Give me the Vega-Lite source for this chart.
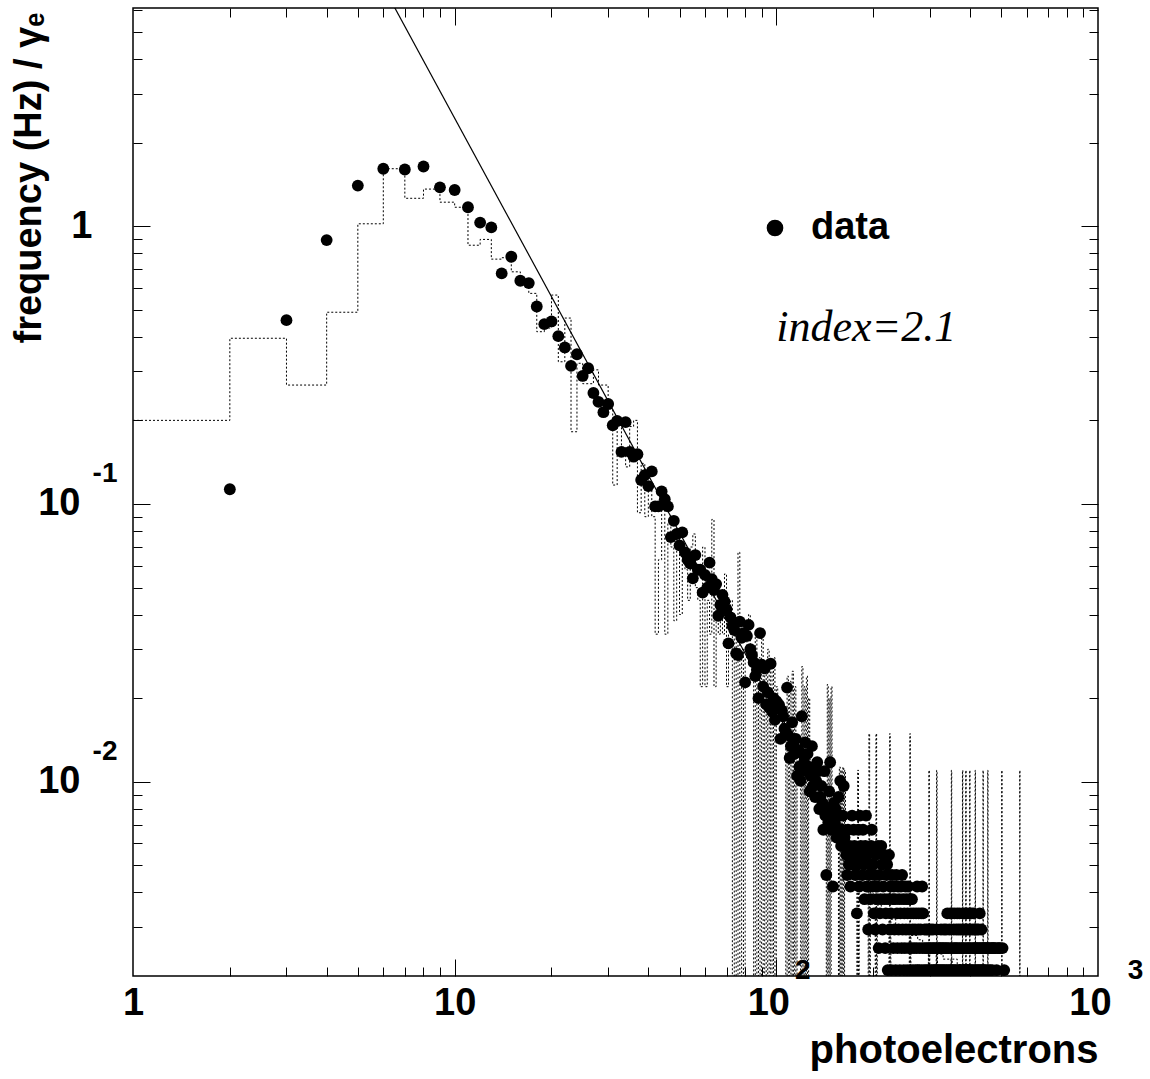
{
"$schema": "https://vega.github.io/schema/vega-lite/v6.json",
"width": 965, "height": 968,
"autosize": {"type": "none"},
"padding": {"left": 133, "top": 8, "right": 52, "bottom": 103},
"background": "white",
"config": {
  "view": {"stroke": "black", "strokeWidth": 1.5},
  "axis": {"grid": false, "domain": false, "tickColor": "black", "tickWidth": 1, "labelColor": "black", "labelFont": "Liberation Sans", "labelFontWeight": "bold", "titleFont": "Liberation Sans", "titleFontWeight": "bold", "titleColor": "black", "labelFlush": false, "labelOverlap": false, "labelBound": false}
},
"resolve": {"axis": {"x": "independent", "y": "independent"}},
"datasets": {
"hist": [
{"pe":1,"freq":0.2},{"pe":2,"freq":0.395},{"pe":3,"freq":0.268},{"pe":4,"freq":0.49},{"pe":5,"freq":1.02},{"pe":6,"freq":1.61},{"pe":7,"freq":1.26},{"pe":8,"freq":1.36},{"pe":9,"freq":1.22},{"pe":10,"freq":1.17},
{"pe":11,"freq":0.854},{"pe":12,"freq":0.896},{"pe":13,"freq":0.761},{"pe":14,"freq":0.77},{"pe":15,"freq":0.685},{"pe":16,"freq":0.62},{"pe":17,"freq":0.573},{"pe":18,"freq":0.417},{"pe":19,"freq":0.43},{"pe":20,"freq":0.565},
{"pe":21,"freq":0.325},{"pe":22,"freq":0.467},{"pe":23,"freq":0.182},{"pe":24,"freq":0.321},{"pe":25,"freq":0.271},{"pe":26,"freq":0.271},{"pe":27,"freq":0.304},{"pe":28,"freq":0.268},{"pe":29,"freq":0.268},{"pe":30,"freq":0.22},
{"pe":31,"freq":0.117},{"pe":32,"freq":0.2},{"pe":33,"freq":0.16},{"pe":34,"freq":0.136},{"pe":35,"freq":0.19},{"pe":36,"freq":0.2},{"pe":37,"freq":0.093},{"pe":38,"freq":0.14},{"pe":39,"freq":0.09},{"pe":40,"freq":0.115},
{"pe":41,"freq":0.09},{"pe":42,"freq":0.034},{"pe":43,"freq":0.063},{"pe":44,"freq":0.11},{"pe":45,"freq":0.034},{"pe":46,"freq":0.085},{"pe":47,"freq":0.07},{"pe":48,"freq":0.038},{"pe":49,"freq":0.075},{"pe":50,"freq":0.04},
{"pe":51,"freq":0.065},{"pe":52,"freq":0.058},{"pe":53,"freq":0.045},{"pe":54,"freq":0.07},{"pe":55,"freq":0.078},{"pe":56,"freq":0.05},{"pe":57,"freq":0.045},{"pe":58,"freq":0.022},{"pe":59,"freq":0.07},{"pe":60,"freq":0.022},
{"pe":61,"freq":0.045},{"pe":62,"freq":0.034},{"pe":63,"freq":0.088},{"pe":64,"freq":0.022},{"pe":65,"freq":0.045},{"pe":66,"freq":0.034},{"pe":67,"freq":0.045},{"pe":68,"freq":0.034},{"pe":69,"freq":0.056},{"pe":70,"freq":0.022},
{"pe":71,"freq":0.034},{"pe":72,"freq":0.045},{"pe":73,"freq":0.0001},{"pe":74,"freq":0.034},{"pe":75,"freq":0.0001},{"pe":76,"freq":0.067},{"pe":77,"freq":0.0001},{"pe":78,"freq":0.03},{"pe":79,"freq":0.0001},{"pe":80,"freq":0.028},
{"pe":81,"freq":0.034},{"pe":82,"freq":0.04},{"pe":83,"freq":0.026},{"pe":84,"freq":0.03},{"pe":85,"freq":0.0001},{"pe":86,"freq":0.034},{"pe":87,"freq":0.0001},{"pe":88,"freq":0.028},{"pe":89,"freq":0.0001},{"pe":90,"freq":0.034},
{"pe":91,"freq":0.0001},{"pe":92,"freq":0.026},{"pe":93,"freq":0.0001},{"pe":94,"freq":0.03},{"pe":95,"freq":0.0001},{"pe":96,"freq":0.025},{"pe":97,"freq":0.0001},{"pe":98,"freq":0.028},{"pe":99,"freq":0.0001},{"pe":100,"freq":0.022},
{"pe":101,"freq":0.02},{"pe":102,"freq":0.018},{"pe":103,"freq":0.02},{"pe":104,"freq":0.016},{"pe":105,"freq":0.017},{"pe":106,"freq":0.015},{"pe":107,"freq":0.0001},{"pe":108,"freq":0.024},{"pe":109,"freq":0.0001},{"pe":110,"freq":0.023},
{"pe":111,"freq":0.0001},{"pe":112,"freq":0.025},{"pe":113,"freq":0.0001},{"pe":114,"freq":0.022},{"pe":115,"freq":0.0001},{"pe":116,"freq":0.014},{"pe":117,"freq":0.013},{"pe":118,"freq":0.012},{"pe":119,"freq":0.0001},{"pe":120,"freq":0.026},
{"pe":121,"freq":0.0001},{"pe":122,"freq":0.022},{"pe":123,"freq":0.0001},{"pe":124,"freq":0.024},{"pe":125,"freq":0.0001},{"pe":126,"freq":0.02},{"pe":127,"freq":0.012},{"pe":128,"freq":0.011},{"pe":129,"freq":0.012},{"pe":130,"freq":0.01},
{"pe":131,"freq":0.011},{"pe":132,"freq":0.0095},{"pe":133,"freq":0.01},{"pe":134,"freq":0.0098},{"pe":135,"freq":0.009},{"pe":136,"freq":0.0092},{"pe":137,"freq":0.0085},{"pe":138,"freq":0.009},{"pe":139,"freq":0.008},{"pe":140,"freq":0.0085},
{"pe":141,"freq":0.0078},{"pe":142,"freq":0.008},{"pe":143,"freq":0.0001},{"pe":144,"freq":0.0224},{"pe":145,"freq":0.0001},{"pe":146,"freq":0.02},{"pe":147,"freq":0.0001},{"pe":148,"freq":0.022},{"pe":149,"freq":0.0075},{"pe":150,"freq":0.0072},
{"pe":151,"freq":0.007},{"pe":152,"freq":0.0068},{"pe":153,"freq":0.007},{"pe":154,"freq":0.0065},{"pe":155,"freq":0.0064},{"pe":156,"freq":0.0001},{"pe":157,"freq":0.0113},{"pe":158,"freq":0.0001},{"pe":159,"freq":0.011},{"pe":160,"freq":0.0001},
{"pe":161,"freq":0.0113},{"pe":162,"freq":0.0001},{"pe":163,"freq":0.011},{"pe":164,"freq":0.006},{"pe":165,"freq":0.0058},{"pe":166,"freq":0.0055},{"pe":167,"freq":0.0056},{"pe":168,"freq":0.0054},{"pe":169,"freq":0.0052},{"pe":170,"freq":0.0053},
{"pe":171,"freq":0.005},{"pe":172,"freq":0.0051},{"pe":173,"freq":0.0049},{"pe":174,"freq":0.005},{"pe":175,"freq":0.0047},{"pe":176,"freq":0.0048},{"pe":177,"freq":0.0046},{"pe":178,"freq":0.0001},{"pe":179,"freq":0.011},{"pe":180,"freq":0.0001},
{"pe":181,"freq":0.0046},{"pe":186,"freq":0.0042},{"pe":193,"freq":0.0001},{"pe":194,"freq":0.0149},{"pe":195,"freq":0.0001},{"pe":196,"freq":0.0042},{"pe":200,"freq":0.0038},{"pe":203,"freq":0.0001},{"pe":204,"freq":0.0149},{"pe":205,"freq":0.0001},
{"pe":206,"freq":0.0036},{"pe":212,"freq":0.0034},{"pe":218,"freq":0.0033},{"pe":224,"freq":0.0001},{"pe":225,"freq":0.0149},{"pe":226,"freq":0.0001},{"pe":227,"freq":0.0032},{"pe":235,"freq":0.003},{"pe":245,"freq":0.0029},{"pe":259,"freq":0.0001},
{"pe":260,"freq":0.0149},{"pe":261,"freq":0.0001},{"pe":262,"freq":0.0028},{"pe":275,"freq":0.0027},{"pe":285,"freq":0.0026},{"pe":297,"freq":0.0001},{"pe":298,"freq":0.011},{"pe":299,"freq":0.0001},{"pe":300,"freq":0.0025},{"pe":314,"freq":0.0001},
{"pe":315,"freq":0.011},{"pe":316,"freq":0.0001},{"pe":317,"freq":0.0024},{"pe":330,"freq":0.0023},{"pe":349,"freq":0.0001},{"pe":350,"freq":0.011},{"pe":351,"freq":0.0001},{"pe":352,"freq":0.0023},{"pe":365,"freq":0.0022},{"pe":378,"freq":0.0001},
{"pe":379,"freq":0.011},{"pe":380,"freq":0.0001},{"pe":381,"freq":0.0022},{"pe":387,"freq":0.0001},{"pe":388,"freq":0.011},{"pe":389,"freq":0.0001},{"pe":390,"freq":0.0022},{"pe":398,"freq":0.0001},{"pe":399,"freq":0.011},{"pe":400,"freq":0.0001},
{"pe":401,"freq":0.0021},{"pe":414,"freq":0.0001},{"pe":415,"freq":0.011},{"pe":416,"freq":0.0001},{"pe":417,"freq":0.0021},{"pe":438,"freq":0.0001},{"pe":439,"freq":0.011},{"pe":440,"freq":0.0001},{"pe":441,"freq":0.0021},{"pe":453,"freq":0.0001},
{"pe":454,"freq":0.011},{"pe":455,"freq":0.0001},{"pe":456,"freq":0.0021},{"pe":501,"freq":0.0001},{"pe":502,"freq":0.011},{"pe":503,"freq":0.0001},{"pe":570,"freq":0.0001},{"pe":571,"freq":0.011},{"pe":572,"freq":0.0001},{"pe":1000,"freq":0.0001}
],
"dots": [
{"pe":2,"freq":0.113},{"pe":3,"freq":0.459},{"pe":4,"freq":0.891},{"pe":5,"freq":1.4},{"pe":6,"freq":1.61},{"pe":7,"freq":1.6},{"pe":8,"freq":1.64},{"pe":9,"freq":1.38},{"pe":10,"freq":1.35},
{"pe":11,"freq":1.17},{"pe":12,"freq":1.03},{"pe":13,"freq":0.99},{"pe":14,"freq":0.676},{"pe":15,"freq":0.776},{"pe":16,"freq":0.636},{"pe":17,"freq":0.624},{"pe":18,"freq":0.514},{"pe":19,"freq":0.444},{"pe":20,"freq":0.454},
{"pe":21,"freq":0.402},{"pe":22,"freq":0.366},{"pe":23,"freq":0.314},{"pe":24,"freq":0.346},{"pe":25,"freq":0.289},{"pe":26,"freq":0.308},{"pe":27,"freq":0.251},{"pe":28,"freq":0.233},{"pe":29,"freq":0.214},{"pe":30,"freq":0.229},
{"pe":31,"freq":0.192},{"pe":32,"freq":0.199},{"pe":33,"freq":0.154},{"pe":34,"freq":0.197},{"pe":35,"freq":0.154},{"pe":36,"freq":0.148},{"pe":37,"freq":0.151},{"pe":38,"freq":0.122},{"pe":39,"freq":0.127},{"pe":40,"freq":0.116},
{"pe":41,"freq":0.131},{"pe":42,"freq":0.098},{"pe":43,"freq":0.098},{"pe":44,"freq":0.111},{"pe":45,"freq":0.104},{"pe":46,"freq":0.098},{"pe":47,"freq":0.076},{"pe":48,"freq":0.087},{"pe":49,"freq":0.078},{"pe":50,"freq":0.071},
{"pe":51,"freq":0.079},{"pe":52,"freq":0.067},{"pe":53,"freq":0.063},{"pe":54,"freq":0.061},{"pe":55,"freq":0.054},{"pe":56,"freq":0.0655},{"pe":57,"freq":0.058},{"pe":58,"freq":0.058},{"pe":59,"freq":0.048},{"pe":60,"freq":0.0556},
{"pe":61,"freq":0.05},{"pe":62,"freq":0.0615},{"pe":63,"freq":0.0536},{"pe":64,"freq":0.049},{"pe":65,"freq":0.0515},{"pe":66,"freq":0.0396},{"pe":67,"freq":0.0433},{"pe":68,"freq":0.0471},{"pe":69,"freq":0.0446},{"pe":70,"freq":0.0418},
{"pe":71,"freq":0.0315},{"pe":72,"freq":0.0391},{"pe":73,"freq":0.0364},{"pe":74,"freq":0.0352},{"pe":75,"freq":0.029},{"pe":76,"freq":0.0286},{"pe":77,"freq":0.0377},{"pe":78,"freq":0.033},{"pe":79,"freq":0.0343},{"pe":80,"freq":0.0228},
{"pe":81,"freq":0.0335},{"pe":82,"freq":0.0367},{"pe":83,"freq":0.03},{"pe":84,"freq":0.0286},{"pe":85,"freq":0.0269},{"pe":86,"freq":0.024},{"pe":87,"freq":0.0253},{"pe":88,"freq":0.02},{"pe":89,"freq":0.0343},{"pe":90,"freq":0.0264},
{"pe":91,"freq":0.022},{"pe":92,"freq":0.0256},{"pe":93,"freq":0.019},{"pe":94,"freq":0.021},{"pe":95,"freq":0.0185},{"pe":96,"freq":0.0266},{"pe":97,"freq":0.0179},{"pe":98,"freq":0.02},{"pe":99,"freq":0.0167},{"pe":100,"freq":0.0195},
{"pe":101,"freq":0.01848},{"pe":102,"freq":0.0189},{"pe":103,"freq":0.01428},{"pe":104,"freq":0.01806},{"pe":105,"freq":0.01722},{"pe":106,"freq":0.01554},{"pe":107,"freq":0.01512},{"pe":108,"freq":0.02184},{"pe":109,"freq":0.0147},{"pe":110,"freq":0.01218},
{"pe":111,"freq":0.01344},{"pe":112,"freq":0.01638},{"pe":113,"freq":0.01386},{"pe":114,"freq":0.0126},{"pe":115,"freq":0.01428},{"pe":116,"freq":0.0105},{"pe":117,"freq":0.01302},{"pe":118,"freq":0.01134},{"pe":119,"freq":0.01008},{"pe":120,"freq":0.01722},
{"pe":121,"freq":0.0126},{"pe":122,"freq":0.01176},{"pe":123,"freq":0.01386},{"pe":124,"freq":0.01092},{"pe":125,"freq":0.0126},{"pe":126,"freq":0.01134},{"pe":127,"freq":0.00924},{"pe":128,"freq":0.0105},{"pe":129,"freq":0.01344},{"pe":130,"freq":0.00966},
{"pe":131,"freq":0.01092},{"pe":132,"freq":0.00882},{"pe":133,"freq":0.01008},{"pe":134,"freq":0.01176},{"pe":135,"freq":0.01092},{"pe":136,"freq":0.00798},{"pe":137,"freq":0.00882},{"pe":138,"freq":0.00966},{"pe":139,"freq":0.0084},{"pe":140,"freq":0.00672},
{"pe":141,"freq":0.01092},{"pe":142,"freq":0.00756},{"pe":143,"freq":0.00462},{"pe":144,"freq":0.00798},{"pe":145,"freq":0.00714},{"pe":146,"freq":0.00924},{"pe":147,"freq":0.01176},{"pe":148,"freq":0.00672},{"pe":149,"freq":0.00756},{"pe":150,"freq":0.0042},
{"pe":151,"freq":0.0084},{"pe":152,"freq":0.00714},{"pe":153,"freq":0.00798},{"pe":154,"freq":0.0063},{"pe":155,"freq":0.00672},{"pe":156,"freq":0.00882},{"pe":157,"freq":0.00756},{"pe":158,"freq":0.01008},{"pe":159,"freq":0.00588},{"pe":160,"freq":0.00672},
{"pe":161,"freq":0.00756},{"pe":162,"freq":0.00966},{"pe":163,"freq":0.0063},{"pe":164,"freq":0.00588},{"pe":165,"freq":0.00546},{"pe":166,"freq":0.00462},{"pe":167,"freq":0.00672},{"pe":168,"freq":0.00504},{"pe":169,"freq":0.00588},{"pe":170,"freq":0.0042},
{"pe":171,"freq":0.00546},{"pe":172,"freq":0.00756},{"pe":173,"freq":0.00504},{"pe":174,"freq":0.00672},{"pe":175,"freq":0.00588},{"pe":176,"freq":0.00462},{"pe":177,"freq":0.00546},{"pe":178,"freq":0.00336},{"pe":179,"freq":0.00504},{"pe":180,"freq":0.00672},
{"pe":181,"freq":0.0042},{"pe":182,"freq":0.00756},{"pe":183,"freq":0.00588},{"pe":184,"freq":0.00546},{"pe":185,"freq":0.00462},{"pe":186,"freq":0.00672},{"pe":187,"freq":0.00504},{"pe":188,"freq":0.00378},{"pe":189,"freq":0.00588},{"pe":190,"freq":0.00756},
{"pe":191,"freq":0.0042},{"pe":192,"freq":0.00546},{"pe":193,"freq":0.00294},{"pe":194,"freq":0.00462},{"pe":195,"freq":0.00504},{"pe":196,"freq":0.00378},{"pe":197,"freq":0.00588},{"pe":198,"freq":0.00672},{"pe":199,"freq":0.0042},{"pe":200,"freq":0.00504},
{"pe":201,"freq":0.00336},{"pe":202,"freq":0.00462},{"pe":203,"freq":0.00294},{"pe":204,"freq":0.00546},{"pe":205,"freq":0.00378},{"pe":206,"freq":0.0042},{"pe":207,"freq":0.00588},{"pe":208,"freq":0.00252},{"pe":209,"freq":0.00462},{"pe":210,"freq":0.00336},
{"pe":211,"freq":0.00378},{"pe":212,"freq":0.00588},{"pe":213,"freq":0.00504},{"pe":214,"freq":0.00294},{"pe":215,"freq":0.0042},{"pe":216,"freq":0.00546},{"pe":217,"freq":0.00378},{"pe":218,"freq":0.00252},{"pe":219,"freq":0.00336},{"pe":220,"freq":0.00462},
{"pe":221,"freq":0.00504},{"pe":222,"freq":0.0021},{"pe":223,"freq":0.00378},{"pe":224,"freq":0.00546},{"pe":225,"freq":0.00294},{"pe":226,"freq":0.0042},{"pe":227,"freq":0.00336},{"pe":228,"freq":0.0021},{"pe":229,"freq":0.00462},{"pe":230,"freq":0.00378},
{"pe":231,"freq":0.00252},{"pe":232,"freq":0.0042},{"pe":233,"freq":0.00294},{"pe":234,"freq":0.00378},{"pe":235,"freq":0.0021},{"pe":236,"freq":0.00462},{"pe":237,"freq":0.00336},{"pe":238,"freq":0.00252},{"pe":239,"freq":0.0042},{"pe":240,"freq":0.00294},
{"pe":241,"freq":0.00378},{"pe":242,"freq":0.0021},{"pe":243,"freq":0.00336},{"pe":244,"freq":0.0042},{"pe":245,"freq":0.00252},{"pe":246,"freq":0.00462},{"pe":247,"freq":0.00294},{"pe":248,"freq":0.00378},{"pe":249,"freq":0.0021},{"pe":250,"freq":0.00336},
{"pe":251,"freq":0.00252},{"pe":252,"freq":0.0042},{"pe":253,"freq":0.00294},{"pe":254,"freq":0.00378},{"pe":255,"freq":0.0021},{"pe":256,"freq":0.00336},{"pe":257,"freq":0.0042},{"pe":258,"freq":0.00252},{"pe":259,"freq":0.00294},{"pe":260,"freq":0.00378},
{"pe":261,"freq":0.0021},{"pe":262,"freq":0.00336},{"pe":263,"freq":0.00252},{"pe":264,"freq":0.00378},{"pe":265,"freq":0.00294},{"pe":266,"freq":0.0021},{"pe":267,"freq":0.00336},{"pe":268,"freq":0.00252},{"pe":269,"freq":0.00168},{"pe":270,"freq":0.00294},
{"pe":271,"freq":0.0021},{"pe":272,"freq":0.00336},{"pe":273,"freq":0.00252},{"pe":274,"freq":0.0042},{"pe":275,"freq":0.0021},{"pe":276,"freq":0.00294},{"pe":277,"freq":0.00336},{"pe":278,"freq":0.0021},{"pe":279,"freq":0.00252},{"pe":280,"freq":0.00168},
{"pe":281,"freq":0.00294},{"pe":282,"freq":0.00336},{"pe":283,"freq":0.0021},{"pe":284,"freq":0.0042},{"pe":285,"freq":0.00252},{"pe":286,"freq":0.00336},{"pe":287,"freq":0.00168},{"pe":288,"freq":0.0021},{"pe":289,"freq":0.00294},{"pe":290,"freq":0.00252},
{"pe":291,"freq":0.00126},{"pe":292,"freq":0.0021},{"pe":293,"freq":0.00294},{"pe":294,"freq":0.00252},{"pe":295,"freq":0.00168},{"pe":296,"freq":0.0021},{"pe":297,"freq":0.00294},{"pe":298,"freq":0.00252},{"pe":299,"freq":0.00126},{"pe":300,"freq":0.0021},
{"pe":301,"freq":0.00252},{"pe":302,"freq":0.00294},{"pe":304,"freq":0.0021},{"pe":305,"freq":0.00252},{"pe":307,"freq":0.00294},{"pe":308,"freq":0.0021},{"pe":309,"freq":0.00252},{"pe":311,"freq":0.0021},{"pe":312,"freq":0.00252},{"pe":314,"freq":0.0021},
{"pe":315,"freq":0.00294},{"pe":317,"freq":0.0021},{"pe":318,"freq":0.00252},{"pe":320,"freq":0.0021},{"pe":321,"freq":0.00252},{"pe":323,"freq":0.0021},{"pe":324,"freq":0.00252},{"pe":325,"freq":0.00294},{"pe":327,"freq":0.0021},{"pe":328,"freq":0.00252},
{"pe":330,"freq":0.0021},{"pe":331,"freq":0.00252},{"pe":332,"freq":0.00294},{"pe":334,"freq":0.0021},{"pe":335,"freq":0.00252},{"pe":337,"freq":0.00294},{"pe":338,"freq":0.0021},{"pe":339,"freq":0.00252},{"pe":340,"freq":0.00336},{"pe":342,"freq":0.0021},
{"pe":343,"freq":0.00252},{"pe":345,"freq":0.00294},{"pe":346,"freq":0.0021},{"pe":347,"freq":0.00336},{"pe":349,"freq":0.00252},{"pe":350,"freq":0.0021},{"pe":352,"freq":0.00336},{"pe":353,"freq":0.0021},{"pe":354,"freq":0.00252},{"pe":356,"freq":0.00294},
{"pe":357,"freq":0.0021},{"pe":358,"freq":0.00336},{"pe":359,"freq":0.00252},{"pe":361,"freq":0.0021},{"pe":362,"freq":0.00252},{"pe":363,"freq":0.00294},{"pe":365,"freq":0.00336},{"pe":366,"freq":0.0021},{"pe":367,"freq":0.00252},{"pe":369,"freq":0.00294},
{"pe":370,"freq":0.0021},{"pe":371,"freq":0.00336},{"pe":372,"freq":0.00252},{"pe":374,"freq":0.0021},{"pe":375,"freq":0.00294},{"pe":377,"freq":0.00252},{"pe":378,"freq":0.0021},{"pe":379,"freq":0.00336},{"pe":381,"freq":0.00252},{"pe":382,"freq":0.00294},
{"pe":383,"freq":0.0021},{"pe":385,"freq":0.00336},{"pe":386,"freq":0.00252},{"pe":387,"freq":0.0021},{"pe":388,"freq":0.00294},{"pe":390,"freq":0.0021},{"pe":391,"freq":0.00336},{"pe":392,"freq":0.00252},{"pe":394,"freq":0.00294},{"pe":395,"freq":0.0021},
{"pe":396,"freq":0.00252},{"pe":398,"freq":0.00336},{"pe":399,"freq":0.0021},{"pe":400,"freq":0.00252},{"pe":401,"freq":0.00294},{"pe":403,"freq":0.0021},{"pe":404,"freq":0.00336},{"pe":406,"freq":0.00252},{"pe":407,"freq":0.0021},{"pe":408,"freq":0.00294},
{"pe":410,"freq":0.00336},{"pe":411,"freq":0.00252},{"pe":413,"freq":0.0021},{"pe":414,"freq":0.00294},{"pe":415,"freq":0.00252},{"pe":417,"freq":0.0021},{"pe":419,"freq":0.00252},{"pe":420,"freq":0.00294},{"pe":422,"freq":0.0021},{"pe":423,"freq":0.00252},
{"pe":425,"freq":0.00294},{"pe":426,"freq":0.0021},{"pe":428,"freq":0.00252},{"pe":429,"freq":0.00336},{"pe":431,"freq":0.0021},{"pe":432,"freq":0.00252},{"pe":434,"freq":0.00294},{"pe":435,"freq":0.0021},{"pe":437,"freq":0.00252},{"pe":439,"freq":0.0021},
{"pe":440,"freq":0.00252},{"pe":443,"freq":0.0021},{"pe":444,"freq":0.00252},{"pe":447,"freq":0.00252},{"pe":448,"freq":0.0021},{"pe":451,"freq":0.00252},{"pe":454,"freq":0.00252},{"pe":456,"freq":0.0021},{"pe":459,"freq":0.00252},{"pe":462,"freq":0.0021},
{"pe":465,"freq":0.00252},{"pe":468,"freq":0.00252},{"pe":469,"freq":0.0021},{"pe":472,"freq":0.00252},{"pe":475,"freq":0.00252},{"pe":479,"freq":0.00252},{"pe":484,"freq":0.0021},{"pe":487,"freq":0.00252},{"pe":492,"freq":0.00252},{"pe":496,"freq":0.00252},
{"pe":505,"freq":0.00252},{"pe":511,"freq":0.0021}
],
"fit": [{"pe":6,"freq":7.28},{"pe":140,"freq":0.00877}],
"anchor": [{"pe":1,"freq":1}]
},
"layer": [
{"data": {"name": "hist"},
 "mark": {"type": "line", "interpolate": "step-after", "stroke": "black", "strokeWidth": 1, "strokeDash": [2, 2], "clip": true},
 "encoding": {"x": {"field": "pe", "type": "quantitative", "scale": {"type": "log", "domain": [1, 1000], "nice": false}, "axis": null},
              "y": {"field": "freq", "type": "quantitative", "scale": {"type": "log", "domain": [0.002, 6.1], "nice": false}, "axis": null}}},
{"data": {"name": "fit"},
 "mark": {"type": "line", "stroke": "black", "strokeWidth": 1.2, "clip": true},
 "encoding": {"x": {"field": "pe", "type": "quantitative", "scale": {"type": "log", "domain": [1, 1000], "nice": false}, "axis": null},
              "y": {"field": "freq", "type": "quantitative", "scale": {"type": "log", "domain": [0.002, 6.1], "nice": false}, "axis": null}}},
{"data": {"name": "dots"},
 "mark": {"type": "circle", "size": 140, "opacity": 1, "clip": true},
 "encoding": {"x": {"field": "pe", "type": "quantitative", "scale": {"type": "log", "domain": [1, 1000], "nice": false}, "axis": null},
              "y": {"field": "freq", "type": "quantitative", "scale": {"type": "log", "domain": [0.002, 6.1], "nice": false}, "axis": null},
              "color": {"datum": "data", "scale": {"domain": ["data"], "range": ["black"]},
                        "legend": {"orient": "none", "legendX": 623, "legendY": 201, "title": null, "symbolType": "circle", "symbolSize": 230, "symbolFillColor": "black", "symbolStrokeColor": "black", "labelFont": "Liberation Sans", "labelFontWeight": "bold", "labelFontSize": 38, "labelColor": "black", "labelOffset": 17, "padding": 0}}}},
{"data": {"name": "anchor"},
 "mark": {"type": "text", "font": "Liberation Serif", "fontStyle": "italic", "fontSize": 44, "align": "left", "baseline": "middle", "color": "black"},
 "encoding": {"x": {"datum": 100, "type": "quantitative", "scale": {"type": "log", "domain": [1, 1000], "nice": false}, "axis": null},
              "y": {"datum": 0.43, "type": "quantitative", "scale": {"type": "log", "domain": [0.002, 6.1], "nice": false}, "axis": null},
              "text": {"value": "index=2.1"}}},
{"data": {"name": "anchor"},
 "mark": {"type": "point", "opacity": 0},
 "encoding": {"x": {"field": "pe", "type": "quantitative", "scale": {"type": "log", "domain": [1, 1000], "nice": false},
                    "axis": {"orient": "bottom", "values": [1, 10, 100, 1000], "ticks": false, "labelExpr": "datum.value == 1 ? '1' : '10'", "labelFontSize": 38, "labelPadding": 8, "labelOffset": {"condition": {"test": "datum.value >= 100", "value": -8}, "value": 0},
                             "title": "photoelectrons", "titleFontSize": 40, "titleAlign": "right", "titleAnchor": "end", "titleX": 965, "titleY": 86, "titleBaseline": "alphabetic"}},
              "y": {"field": "freq", "type": "quantitative", "scale": {"type": "log", "domain": [0.002, 6.1], "nice": false},
                    "axis": {"orient": "left", "values": [0.01, 0.1, 1], "ticks": false, "labelExpr": "datum.value == 1 ? '1' : '10'", "labelFontSize": 38, "labelBaseline": "middle", "labelPadding": {"condition": {"test": "datum.value == 1", "value": 41}, "value": 53},
                             "title": "frequency (Hz) / γₑ", "titleFontSize": 38, "titleAngle": -90, "titleAlign": "right", "titleX": -93, "titleY": 4, "titleBaseline": "alphabetic"}}}},
{"data": {"name": "anchor"},
 "mark": {"type": "point", "opacity": 0},
 "encoding": {"x": {"field": "pe", "type": "quantitative", "scale": {"type": "log", "domain": [1, 1000], "nice": false},
                    "axis": {"orient": "bottom", "values": [100, 1000], "ticks": false, "labelExpr": "datum.value == 100 ? '2' : '3'", "labelFontSize": 28, "labelPadding": -20, "labelOffset": {"condition": {"test": "datum.value == 100", "value": 26}, "value": 37}, "title": null}},
              "y": {"field": "freq", "type": "quantitative", "scale": {"type": "log", "domain": [0.002, 6.1], "nice": false},
                    "axis": {"orient": "left", "values": [0.01, 0.1], "ticks": false, "labelExpr": "datum.value == 0.1 ? '-1' : '-2'", "labelFontSize": 28, "labelBaseline": "middle", "labelPadding": 16, "labelOffset": -30, "title": null}}}},
{"data": {"name": "anchor"},
 "mark": {"type": "point", "opacity": 0},
 "encoding": {"x": {"field": "pe", "type": "quantitative", "scale": {"type": "log", "domain": [1, 1000], "nice": false},
                    "axis": {"orient": "bottom", "values": [10, 100], "tickSize": -17, "labels": false, "title": null}},
              "y": {"field": "freq", "type": "quantitative", "scale": {"type": "log", "domain": [0.002, 6.1], "nice": false},
                    "axis": {"orient": "left", "values": [0.01, 0.1, 1], "tickSize": -17, "labels": false, "title": null}}}},
{"data": {"name": "anchor"},
 "mark": {"type": "point", "opacity": 0},
 "encoding": {"x": {"field": "pe", "type": "quantitative", "scale": {"type": "log", "domain": [1, 1000], "nice": false},
                    "axis": {"orient": "bottom", "values": [2,3,4,5,6,7,8,9,20,30,40,50,60,70,80,90,200,300,400,500,600,700,800,900], "tickSize": -9, "labels": false, "title": null}},
              "y": {"field": "freq", "type": "quantitative", "scale": {"type": "log", "domain": [0.002, 6.1], "nice": false},
                    "axis": {"orient": "left", "values": [0.003,0.004,0.005,0.006,0.007,0.008,0.009,0.02,0.03,0.04,0.05,0.06,0.07,0.08,0.09,0.2,0.3,0.4,0.5,0.6,0.7,0.8,0.9,2,3,4,5,6], "tickSize": -9, "labels": false, "title": null}}}},
{"data": {"name": "anchor"},
 "mark": {"type": "point", "opacity": 0},
 "encoding": {"x": {"field": "pe", "type": "quantitative", "scale": {"type": "log", "domain": [1, 1000], "nice": false},
                    "axis": {"orient": "top", "values": [10, 100], "tickSize": -17, "labels": false, "title": null}},
              "y": {"field": "freq", "type": "quantitative", "scale": {"type": "log", "domain": [0.002, 6.1], "nice": false},
                    "axis": {"orient": "right", "values": [0.01, 0.1, 1], "tickSize": -17, "labels": false, "title": null}}}},
{"data": {"name": "anchor"},
 "mark": {"type": "point", "opacity": 0},
 "encoding": {"x": {"field": "pe", "type": "quantitative", "scale": {"type": "log", "domain": [1, 1000], "nice": false},
                    "axis": {"orient": "top", "values": [2,3,4,5,6,7,8,9,20,30,40,50,60,70,80,90,200,300,400,500,600,700,800,900], "tickSize": -9, "labels": false, "title": null}},
              "y": {"field": "freq", "type": "quantitative", "scale": {"type": "log", "domain": [0.002, 6.1], "nice": false},
                    "axis": {"orient": "right", "values": [0.003,0.004,0.005,0.006,0.007,0.008,0.009,0.02,0.03,0.04,0.05,0.06,0.07,0.08,0.09,0.2,0.3,0.4,0.5,0.6,0.7,0.8,0.9,2,3,4,5,6], "tickSize": -9, "labels": false, "title": null}}}}
]
}
